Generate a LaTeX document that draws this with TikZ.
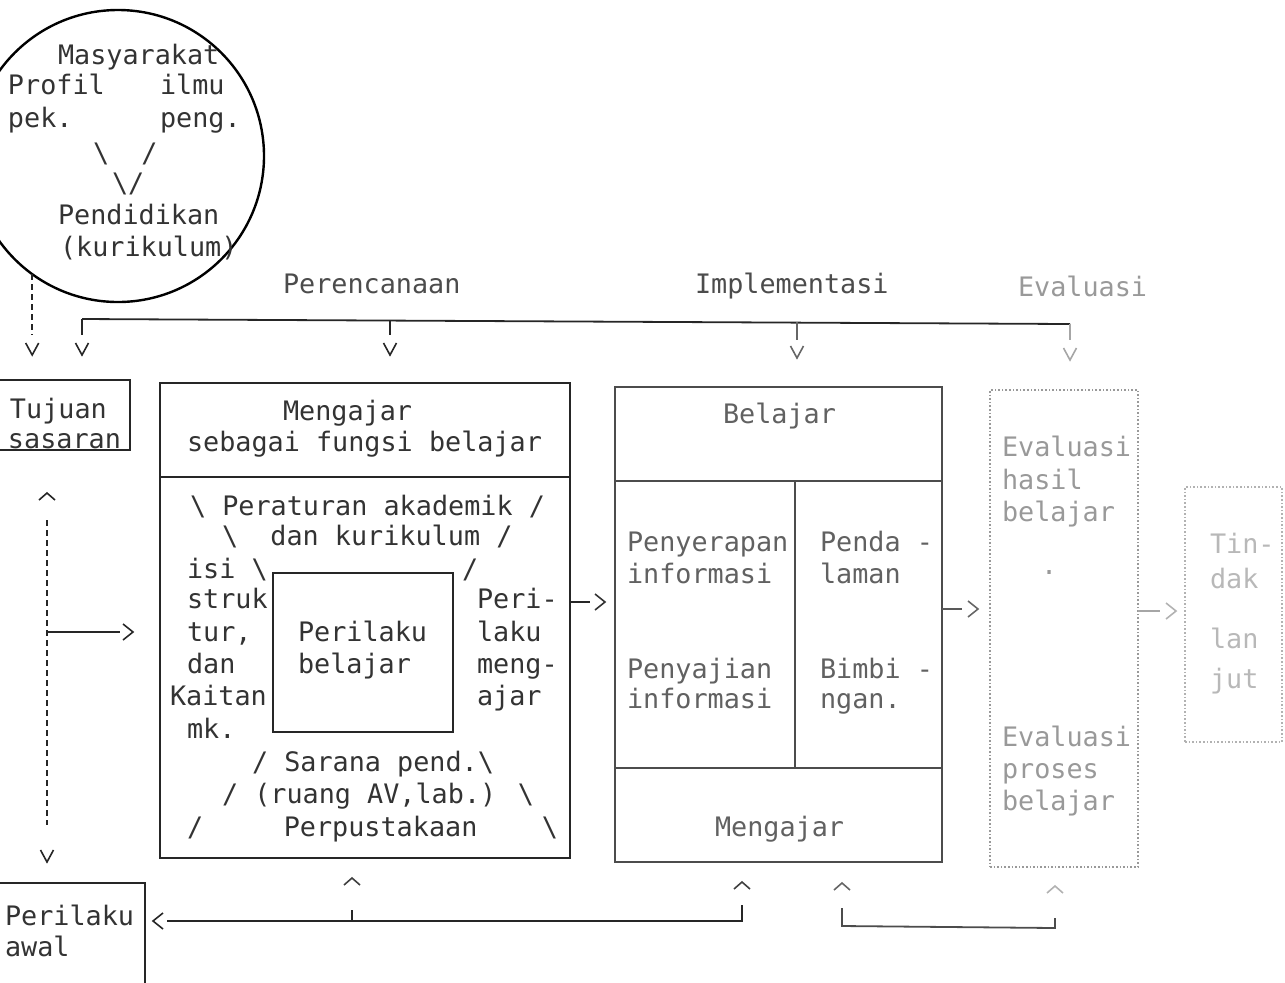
\documentclass[tikz,border=0pt]{standalone}
\usepackage{fontspec}
\setmainfont{DejaVu Sans Mono}
\usetikzlibrary{fit,calc}
\begin{document}
\begin{tikzpicture}[x=0.5pt,y=-0.5pt,
  every node/.style={inner sep=0pt, outer sep=0pt},
  txt/.style={anchor=base west, font=\fontsize{13.4}{15}\selectfont, text=black!80},
  mtxt/.style={txt, text=black!62},
  gtxt/.style={txt, text=black!40},
  ltxt/.style={txt, text=black!28},
  box/.style={draw=black!85, line width=0.9pt},
  mbx/.style={draw=black!70, line width=0.9pt},
  gbox/.style={draw=black!40, line width=0.8pt, densely dotted},
  lbox/.style={draw=black!30, line width=0.8pt, densely dotted},
  ln/.style={draw=black!85, line width=0.9pt},
  hdD/.pic={\draw[line width=0.8pt, line join=miter] (-6.5,-12) -- (0,0) -- (6.5,-12);},
  hdU/.pic={\draw[line width=0.8pt, line join=miter] (-8,7) -- (0,0) -- (8,7);},
  hdR/.pic={\draw[line width=0.8pt, line join=miter] (-10,-8) -- (0,0) -- (-10,8);},
  hdL/.pic={\draw[line width=0.8pt, line join=miter] (10,-8) -- (0,0) -- (10,8);}]
\useasboundingbox (0,0) rectangle (1285,982);
\clip (0,0) rectangle (1285,982);

% circle
\node[draw=black, line width=1.2pt, circle, minimum size=146pt] (circ) at (118,156) {};
\node[txt] (c1) at (58,64) {Masyarakat};
\node[txt] (c2) at (8,94) {Profil};
\node[txt] (c3) at (160,94) {ilmu};
\node[txt] (c4) at (8,127) {pek.};
\node[txt] (c5) at (160,127) {peng.};
\node[txt] (c6) at (93,162) {\textbackslash~~/};
\node[txt] (c7) at (112,192) {\textbackslash/};
\node[txt] (c8) at (58,224) {Pendidikan};
\node[txt] (c9) at (60,256) {(kurikulum)};

% phase labels
\node[txt, text=black!70] (ph1) at (283,293) {Perencanaan};
\node[txt, text=black!70] (ph2) at (695,293) {Implementasi};
\node[gtxt] (ph3) at (1018,296) {Evaluasi};

% boxes
\node[fit={(-5,380)(130,450)}, box] (tuj) {};
\node[txt] (tj1) at (10,418) {Tujuan};
\node[txt] (tj2) at (8,448) {sasaran};

\node[fit={(-5,883)(145,995)}, box] (awal) {};
\node[txt] (aw1) at (5,925) {Perilaku};
\node[txt] (aw2) at (5,956) {awal};

\node[fit={(160,383)(570,858)}, box] (mbox) {};
\draw[ln] (mbox.west |- 0,477) -- (mbox.east |- 0,477);
\node[txt] (m1) at (283,420) {Mengajar};
\node[txt] (m2) at (187,451) {sebagai fungsi belajar};
\node[txt] (m3) at (190,515) {\textbackslash{} Peraturan akademik /};
\node[txt] (m4) at (222,545) {\textbackslash{}~~dan kurikulum /};
\node[txt] (m5) at (187,578) {isi \textbackslash};
\node[txt] (m6) at (462,578) {/};
\node[txt] (m7) at (187,608) {struk};
\node[txt] (m8) at (187,641) {tur,};
\node[txt] (m9) at (187,673) {dan};
\node[txt] (m10) at (170,705) {Kaitan};
\node[txt] (m11) at (187,738) {mk.};
\node[fit={(273,573)(453,732)}, box] (inner) {};
\node[txt] (i1) at (298,641) {Perilaku};
\node[txt] (i2) at (298,673) {belajar};
\node[txt] (r1) at (477,608) {Peri-};
\node[txt] (r2) at (477,641) {laku};
\node[txt] (r3) at (477,673) {meng-};
\node[txt] (r4) at (477,705) {ajar};
\node[txt] (s1) at (252,771) {/ Sarana pend.\textbackslash};
\node[txt] (s2) at (222,803) {/ (ruang AV,lab.) \textbackslash};
\node[txt] (s3) at (187,836) {/~~~~~Perpustakaan~~~~\textbackslash};

\node[fit={(615,387)(942,862)}, mbx] (bbox) {};
\draw[mbx] (bbox.west |- 0,481) -- (bbox.east |- 0,481);
\draw[mbx] (bbox.west |- 0,768) -- (bbox.east |- 0,768);
\draw[mbx] (795,481) -- (795,768);
\node[mtxt] (b1) at (723,423) {Belajar};
\node[mtxt] (b2) at (627,551) {Penyerapan};
\node[mtxt] (b3) at (627,583) {informasi};
\node[mtxt] (b4) at (820,551) {Penda -};
\node[mtxt] (b5) at (820,583) {laman};
\node[mtxt] (b6) at (627,678) {Penyajian};
\node[mtxt] (b7) at (627,708) {informasi};
\node[mtxt] (b8) at (820,678) {Bimbi -};
\node[mtxt] (b9) at (820,708) {ngan.};
\node[mtxt] (b10) at (715,836) {Mengajar};

\node[fit={(990,390)(1138,867)}, gbox] (ebox) {};
\node[gtxt] (e1) at (1002,456) {Evaluasi};
\node[gtxt] (e2) at (1002,489) {hasil};
\node[gtxt] (e3) at (1002,521) {belajar};
\node[gtxt] (e4) at (1041,574) {.};
\node[gtxt] (e5) at (1002,746) {Evaluasi};
\node[gtxt] (e6) at (1002,778) {proses};
\node[gtxt] (e7) at (1002,810) {belajar};

\node[fit={(1185,487)(1282,742)}, lbox] (tbox) {};
\node[ltxt] (d1) at (1210,553) {Tin-};
\node[ltxt] (d2) at (1210,588) {dak};
\node[ltxt] (d3) at (1210,648) {lan};
\node[ltxt] (d4) at (1210,688) {jut};

% ---- connectors (lines stop short of their typed-style heads) ----
% circle -> Tujuan
\coordinate (cv) at (circ.234);
\draw[ln, densely dashed, shorten >=22.5pt] (cv) -- (cv |- tuj.north);
\pic[black!85] at ($(cv |- tuj.north)+(0,-25)$) {hdD};

% top bracket
\coordinate (bl) at (82,319);
\coordinate (bt1) at (390,320);
\coordinate (bt2) at (797,322);
\coordinate (br) at (1070,324);
\draw[ln] (bl) -- (br);
\draw[ln, shorten >=22.5pt] (bl) -- (bl |- tuj.north);
\pic[black!85] at ($(bl |- tuj.north)+(0,-25)$) {hdD};
\draw[ln, shorten >=24pt] (bt1) -- (bt1 |- mbox.north);
\pic[black!85] at ($(bt1 |- mbox.north)+(0,-28)$) {hdD};
\draw[ln, draw=black!60, shorten >=23.5pt] (bt2) -- (bt2 |- bbox.north);
\pic[black!60] at ($(bt2 |- bbox.north)+(0,-29)$) {hdD};
\draw[ln, draw=black!35, shorten >=25pt] (br) -- (br |- ebox.north);
\pic[black!35] at ($(br |- ebox.north)+(0,-30)$) {hdD};

% Tujuan <-> Perilaku awal, branch to Mengajar box
\coordinate (lv) at (47,632);
\draw[ln, densely dashed, shorten <=35pt, shorten >=29pt] (lv |- tuj.south) -- (lv |- awal.north);
\pic[black!85] at ($(lv |- tuj.south)+(0,43)$) {hdU};
\pic[black!85] at ($(lv |- awal.north)+(0,-21)$) {hdD};
\draw[ln, shorten >=20pt] (lv) -- (lv -| mbox.west);
\pic[black!85] at ($(lv -| mbox.west)+(-27,0)$) {hdR};

% horizontal flow
\coordinate (h1) at (570,602);
\draw[ln, shorten >=12.5pt] (mbox.east |- h1) -- (bbox.west |- h1);
\pic[black!80] at ($(bbox.west |- h1)+(-10,0)$) {hdR};
\coordinate (h2) at (942,609);
\draw[ln, draw=black!65, shorten >=14pt] (bbox.east |- h2) -- (ebox.west |- h2);
\pic[black!60] at ($(ebox.west |- h2)+(-12,0)$) {hdR};
\coordinate (h3) at (1138,611);
\draw[ln, draw=black!35, shorten >=12.5pt] (ebox.east |- h3) -- (tbox.west |- h3);
\pic[black!30] at ($(tbox.west |- h3)+(-9,0)$) {hdR};

% bottom feedback to Perilaku awal
\coordinate (bj) at (742,921);
\coordinate (bk) at (352,921);
\draw[ln, shorten <=21.5pt, shorten >=11pt] (bj |- bbox.south) -- (bj) -- (bj -| awal.east);
\pic[black!75] at ($(bj |- bbox.south)+(0,20)$) {hdU};
\pic[black!85] at ($(bj -| awal.east)+(8,0)$) {hdL};
\draw[ln, shorten >=26pt] (bk) -- (bk |- mbox.south);
\pic[black!75] at ($(bk |- mbox.south)+(0,20)$) {hdU};

% bottom link Belajar box <-> Evaluasi box
\coordinate (g1) at (842,926);
\coordinate (g2) at (1055,928);
\draw[ln, draw=black!70, shorten <=23pt, shorten >=25.5pt] (g1 |- bbox.south) -- (g1) -- (g2) -- (g2 |- ebox.south);
\pic[black!60] at ($(g1 |- bbox.south)+(0,21)$) {hdU};
\pic[black!30] at ($(g2 |- ebox.south)+(0,19)$) {hdU};
\end{tikzpicture}
\end{document}
